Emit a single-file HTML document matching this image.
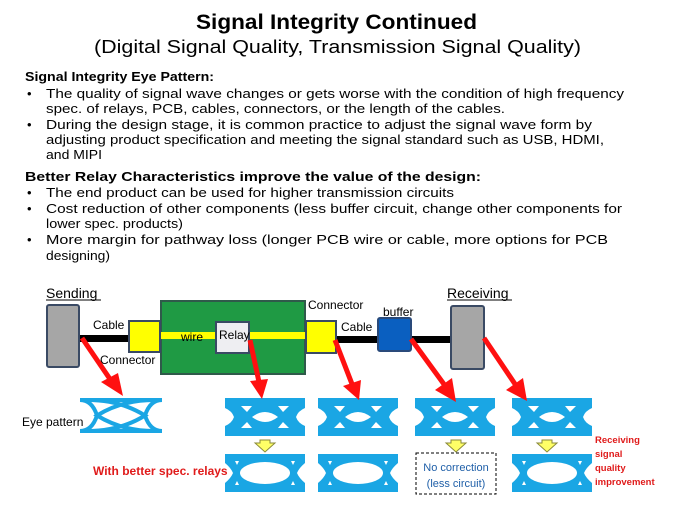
<!DOCTYPE html>
<html><head><meta charset="utf-8"><style>
body{margin:0;background:#fff;}
svg{display:block;font-family:"Liberation Sans",sans-serif;}
</style></head><body>
<svg width="675" height="506" viewBox="0 0 675 506">
<defs>
<g id="bad">
<rect x="0" y="0" width="80" height="38" fill="#1aa6e4"/>
<path d="M27 19 Q40 9 53 19 Q40 29 27 19Z" fill="#fff"/>
<path d="M0 10 Q7 13 9 19 Q7 25 0 28Z" fill="#fff"/>
<path d="M80 10 Q73 13 71 19 Q73 25 80 28Z" fill="#fff"/>
<path d="M16 8 L27 8 L22 14Z M53 8 L64 8 L58 14Z M16 30 L27 30 L22 24Z M53 30 L64 30 L58 24Z" fill="#fff"/>
</g>
<g id="good">
<rect x="0" y="0" width="80" height="38" fill="#1aa6e4"/>
<ellipse cx="40" cy="19" rx="25" ry="11" fill="#fff"/>
<path d="M0 9 Q6 14 8 19 Q6 24 0 29Z M80 9 Q74 14 72 19 Q74 24 80 29Z" fill="#fff"/>
<path d="M10 7 L14 7 L12 11Z M66 7 L70 7 L68 11Z M10 31 L14 31 L12 27Z M66 31 L70 31 L68 27Z" fill="#fff"/>
</g>
<g id="yarr"><polygon points="-10,0 -5,0 -5,-3 5,-3 5,0 10,0 0,9" fill="#ffff66" stroke="#8a8a3a" stroke-width="1"/></g>
</defs>
<text x="196" y="29" textLength="281" lengthAdjust="spacingAndGlyphs" font-size="21" font-weight="bold">Signal Integrity Continued</text>
<text x="94" y="53" textLength="487" lengthAdjust="spacingAndGlyphs" font-size="18">(Digital Signal Quality, Transmission Signal Quality)</text>
<g font-size="13">
<text x="25" y="81" font-weight="bold" textLength="189" lengthAdjust="spacingAndGlyphs">Signal Integrity Eye Pattern:</text>
<text x="27" y="98">•</text><text x="46" y="98" textLength="578" lengthAdjust="spacingAndGlyphs">The quality of signal wave changes or gets worse with the condition of high frequency</text>
<text x="46" y="113" textLength="459" lengthAdjust="spacingAndGlyphs">spec. of relays, PCB, cables, connectors, or the length of the cables.</text>
<text x="27" y="129">•</text><text x="46" y="129" textLength="546" lengthAdjust="spacingAndGlyphs">During the design stage, it is common practice to adjust the signal wave form by</text>
<text x="46" y="144" textLength="558" lengthAdjust="spacingAndGlyphs">adjusting product specification and meeting the signal standard such as USB, HDMI,</text>
<text x="46" y="159" textLength="56" lengthAdjust="spacingAndGlyphs">and MIPI</text>
<text x="25" y="181" font-weight="bold" textLength="456" lengthAdjust="spacingAndGlyphs">Better Relay Characteristics improve the value of the design:</text>
<text x="27" y="197">•</text><text x="46" y="197" textLength="408" lengthAdjust="spacingAndGlyphs">The end product can be used for higher transmission circuits</text>
<text x="27" y="213">•</text><text x="46" y="213" textLength="576" lengthAdjust="spacingAndGlyphs">Cost reduction of other components (less buffer circuit, change other components for</text>
<text x="46" y="228" textLength="137" lengthAdjust="spacingAndGlyphs">lower spec. products)</text>
<text x="27" y="244">•</text><text x="46" y="244" textLength="562" lengthAdjust="spacingAndGlyphs">More margin for pathway loss (longer PCB wire or cable, more options for PCB</text>
<text x="46" y="260" textLength="64" lengthAdjust="spacingAndGlyphs">designing)</text>
</g>
<!-- diagram -->
<text x="46" y="298" font-size="14">Sending</text>
<line x1="46" y1="300" x2="101" y2="300" stroke="#000" stroke-width="1"/>
<text x="447" y="298" font-size="14">Receiving</text>
<line x1="447" y1="300" x2="512" y2="300" stroke="#000" stroke-width="1"/>
<rect x="78" y="335" width="55" height="7" fill="#000"/>
<rect x="335" y="336" width="120" height="7" fill="#000"/>
<rect x="47" y="305" width="32" height="62" fill="#a6a6a6" stroke="#3a4a64" stroke-width="2" rx="2"/>
<rect x="451" y="306" width="33" height="63" fill="#a6a6a6" stroke="#3a4a64" stroke-width="2" rx="2"/>
<rect x="161" y="301" width="144" height="73" fill="#1f9a44" stroke="#2f5a4a" stroke-width="2"/>
<rect x="161" y="332" width="144" height="7" fill="#ffff00"/>
<rect x="129" y="321" width="31" height="31" fill="#ffff00" stroke="#3a4a64" stroke-width="2"/>
<rect x="306" y="321" width="30" height="32" fill="#ffff00" stroke="#3a4a64" stroke-width="2"/>
<rect x="216" y="322" width="33" height="31" fill="#eeeef2" stroke="#3a4a64" stroke-width="2"/>
<rect x="378" y="318" width="33" height="33" fill="#0a5fc0" stroke="#2a4a7a" stroke-width="2" rx="2"/>
<g font-size="12">
<text x="93" y="329">Cable</text>
<text x="100" y="364">Connector</text>
<text x="181" y="341">wire</text>
<text x="219" y="339">Relay</text>
<text x="308" y="309">Connector</text>
<text x="341" y="331">Cable</text>
<text x="383" y="316">buffer</text>
<text x="22" y="426">Eye pattern</text>
</g>
<!-- eyes -->
<g transform="translate(80,398)">
<rect x="0" y="0" width="82" height="4" fill="#1aa6e4"/><rect x="0" y="31" width="82" height="4" fill="#1aa6e4"/>
<path d="M0 2 Q12 2 17 17.5 Q12 33 0 33 M82 2 Q70 2 65 17.5 Q70 33 82 33" fill="none" stroke="#1aa6e4" stroke-width="4"/>
<path d="M8 2 Q40 2 65 17.5 Q40 33 8 33 M74 2 Q42 2 17 17.5 Q42 33 74 33" fill="none" stroke="#1aa6e4" stroke-width="4"/>
</g>
<use href="#bad" x="225" y="398"/>
<use href="#bad" x="318" y="398"/>
<use href="#bad" x="415" y="398"/>
<use href="#bad" x="512" y="398"/>
<use href="#good" x="225" y="454"/>
<use href="#good" x="318" y="454"/>
<use href="#good" x="512" y="454"/>
<use href="#yarr" x="265" y="443"/>
<use href="#yarr" x="456" y="443"/>
<use href="#yarr" x="547" y="443"/>
<rect x="416" y="453" width="80" height="41" fill="#fff" stroke="#000" stroke-width="1" stroke-dasharray="3,2"/>
<text x="456" y="471" text-anchor="middle" font-size="11" fill="#1f5fa8">No correction</text>
<text x="456" y="487" text-anchor="middle" font-size="11" fill="#1f5fa8">(less circuit)</text>
<text x="93" y="475" font-size="12" font-weight="bold" fill="#e01b1b">With better spec. relays</text>
<g font-size="9.5" font-weight="bold" fill="#e01b1b">
<text x="595" y="443">Receiving</text><text x="595" y="457">signal</text><text x="595" y="471">quality</text><text x="595" y="485">improvement</text>
</g>
<!-- red arrows -->
<g stroke="#ff1010" stroke-width="5" fill="#ff1010">
<line x1="82" y1="338" x2="112" y2="382"/>
<line x1="250" y1="340" x2="259" y2="382"/>
<line x1="335" y1="340" x2="352" y2="384"/>
<line x1="411" y1="339" x2="446" y2="387"/>
<line x1="484" y1="338" x2="517" y2="387"/>
</g>
<g fill="#ff1010">
<polygon points="123,396 101,382 118,373"/>
<polygon points="262,399 250,381 268,379"/>
<polygon points="359,400 343,386 361,380"/>
<polygon points="456,402 435,390 452,378"/>
<polygon points="527,401 506,390 523,378"/>
</g>
</svg>
</body></html>
